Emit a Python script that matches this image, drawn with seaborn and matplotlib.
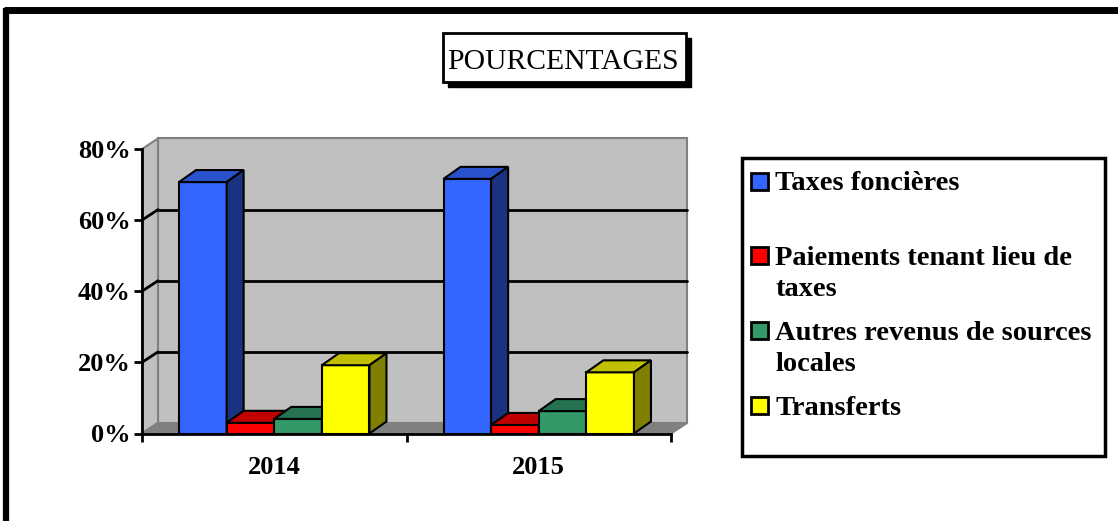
import textwrap
import pandas as pd
import numpy as np
import seaborn as sns
import matplotlib.pyplot as plt
from matplotlib.patches import Polygon, Rectangle
from matplotlib.lines import Line2D
from matplotlib.ticker import PercentFormatter

# data (percent)
annees = ["2014", "2015"]
sources = ["Taxes foncières", "Paiements tenant lieu de taxes",
           "Autres revenus de sources locales", "Transferts"]
valeurs_2014 = [70.7, 3.0, 4.1, 19.2]
valeurs_2015 = [71.6, 2.4, 6.3, 17.2]

couleurs = ["#3366FF", "#FF0000", "#339966", "#FFFF00"]
couleurs_dessus = ["#2952CC", "#C00000", "#267350", "#C0C000"]
couleurs_cote = ["#1A3380", "#800000", "#1A4D33", "#808000"]

df = pd.DataFrame({
    "annee": np.repeat(annees, len(sources)),
    "source": sources * len(annees),
    "pourcentage": valeurs_2014 + valeurs_2015,
})

W, H = 1118, 521
sns.set_style("white")
plt.rcParams["font.family"] = ["Liberation Serif", "DejaVu Serif"]
plt.rcParams["text.color"] = "black"
plt.rcParams["xtick.color"] = "black"
plt.rcParams["ytick.color"] = "black"

fig = plt.figure(figsize=(W / 100, H / 100), dpi=100)

def fx(px):
    return px / W

def fy(py):
    return 1 - py / H

# front face of the 3d box: x 142 -> 671, y 433.5 (0%) -> 149 (80%)
ax = fig.add_axes([fx(142), fy(433.5), fx(671) - fx(142), fy(149) - fy(433.5)])
ax.set_facecolor("none")

sns.barplot(data=df, x="annee", y="pourcentage", hue="source", hue_order=sources,
            palette=couleurs, saturation=1, width=0.72, edgecolor="black",
            linewidth=1.5, legend=False, ax=ax)

xmin, xmax, ymax = -0.5, 1.5, 80
ax.set_xlim(xmin, xmax)
ax.set_ylim(0, ymax)

# pixel -> data conversion for the depth offset
ux = (xmax - xmin) / (671 - 142)
uy = ymax / (433.5 - 149)
DX, DY = 16 * ux, 10.5 * uy       # walls
BX, BY = 17 * ux, 12 * uy         # bars

gris, gris_fonce = "#C0C0C0", "#808080"
mur = dict(clip_on=False, zorder=0.5, linewidth=1.5)
ax.add_patch(Rectangle((xmin + DX, DY), xmax - xmin, ymax, facecolor=gris,
                       edgecolor=gris_fonce, **mur))
ax.add_patch(Polygon([(xmin, 0), (xmin + DX, DY), (xmin + DX, ymax + DY), (xmin, ymax)],
                     facecolor=gris, edgecolor=gris_fonce, **mur))
ax.add_patch(Polygon([(xmin, 0), (xmax, 0), (xmax + DX, DY), (xmin + DX, DY)],
                     facecolor=gris_fonce, edgecolor=gris_fonce, **mur))
for v in [20, 40, 60]:
    ax.plot([xmin + DX, xmax + DX], [v + DY, v + DY], color="black", lw=2, zorder=0.6,
            clip_on=False)
    ax.plot([xmin, xmin + DX], [v, v + DY], color="black", lw=2, zorder=0.6, clip_on=False)

# 3d faces for the bars
for i, cont in enumerate(ax.containers):
    for bar in cont:
        x0, w, h = bar.get_x(), bar.get_width(), bar.get_height()
        z = 2 + i * 0.1
        bar.set_zorder(z)
        x1 = x0 + w
        ax.add_patch(Polygon([(x0, h), (x1, h), (x1 + BX, h + BY), (x0 + BX, h + BY)],
                             facecolor=couleurs_dessus[i], edgecolor="black", lw=1.5,
                             zorder=z, clip_on=False))
        ax.add_patch(Polygon([(x1, 0), (x1 + BX, BY), (x1 + BX, h + BY), (x1, h)],
                             facecolor=couleurs_cote[i], edgecolor="black", lw=1.5,
                             zorder=z, clip_on=False))

sns.despine(ax=ax)
for s in ["left", "bottom"]:
    ax.spines[s].set_linewidth(2)
    ax.spines[s].set_color("black")
    ax.spines[s].set_zorder(5)

ax.set_yticks([0, 20, 40, 60, 80])
ax.yaxis.set_major_formatter(PercentFormatter(xmax=100, decimals=0))
ax.tick_params(axis="y", length=6, width=2, pad=2, labelsize=19, direction="out", left=True)
ax.set_xticks([-0.5, 0.5, 1.5], ["", "", ""])
ax.set_xticks([0, 1], annees, minor=True)
ax.tick_params(axis="x", which="major", length=6, width=2, direction="out", bottom=True)
ax.tick_params(axis="x", which="minor", length=0, pad=16, labelsize=19)
for lab in ax.get_yticklabels() + ax.get_xticklabels(minor=True):
    lab.set_fontweight("bold")
ax.set_xlabel("")
ax.set_ylabel("")

# outer frame (top and left only)
fig.add_artist(Line2D([fx(4), 1], [fy(10), fy(10)], color="black", lw=5,
                      solid_capstyle="butt"))
fig.add_artist(Line2D([fx(6), fx(6)], [fy(8), 0], color="black", lw=4.5,
                      solid_capstyle="butt"))

# title box with shadow
fig.add_artist(Rectangle((fx(448), fy(87)), fx(243), fy(32) - fy(81), transform=fig.transFigure,
                         facecolor="black", edgecolor="black"))
fig.add_artist(Rectangle((fx(443), fy(82)), fx(243), fy(32) - fy(81), transform=fig.transFigure,
                         facecolor="white", edgecolor="black", lw=2))
fig.text(fx(563), fy(59), "POURCENTAGES", ha="center", va="center_baseline", fontsize=21.3)

# legend box
fig.add_artist(Rectangle((fx(742), fy(456)), fx(1105 - 742), fy(158) - fy(456),
                         transform=fig.transFigure, facecolor="white", edgecolor="black", lw=2.5))
for i, nom in enumerate(sources):
    yc = 181 + i * 74.7
    fig.add_artist(Rectangle((fx(751), fy(yc + 8.5)), fx(17), fy(0) - fy(17),
                             transform=fig.transFigure, facecolor=couleurs[i],
                             edgecolor="black", lw=2))
    for k, ligne in enumerate(textwrap.wrap(nom, 25)):
        fig.text(fx(775), fy(yc + k * 31), ligne, ha="left", va="center_baseline",
                 fontsize=20.5, fontweight="bold")

fig.savefig("out.png", dpi=100)
